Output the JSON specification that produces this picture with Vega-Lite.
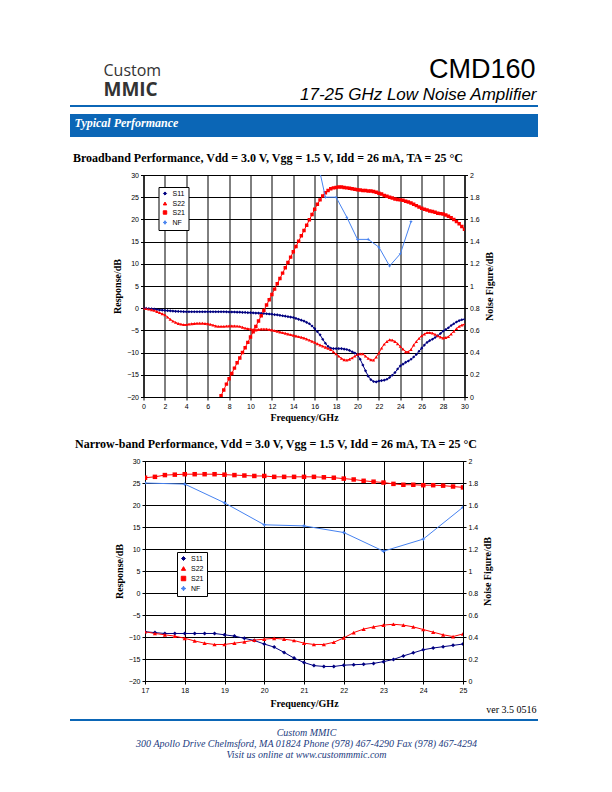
{
  "$schema": "https://vega.github.io/schema/vega-lite/v6.json",
  "padding": 0,
  "background": "white",
  "bounds": "flush",
  "center": true,
  "spacing": 0,
  "config": {"view": {"stroke": null}, "font": "Liberation Sans"},
  "resolve": {"scale": {"color": "independent", "shape": "independent", "size": "independent"}, "legend": {"color": "independent", "shape": "independent", "size": "independent"}},
  "datasets": {
    "bb": [
      {"f":0,"S11":0,"S22":0},{"f":0.25,"S11":-0.05,"S22":-0.1},{"f":0.5,"S11":-0.1,"S22":-0.2},{"f":0.75,"S11":-0.15,"S22":-0.35},
      {"f":1,"S11":-0.2,"S22":-0.5},{"f":1.25,"S11":-0.3,"S22":-0.75},{"f":1.5,"S11":-0.4,"S22":-1.0},{"f":1.75,"S11":-0.45,"S22":-1.25},
      {"f":2,"S11":-0.5,"S22":-1.5},{"f":2.25,"S11":-0.55,"S22":-2.0},{"f":2.5,"S11":-0.6,"S22":-2.5},{"f":2.75,"S11":-0.65,"S22":-2.9},
      {"f":3,"S11":-0.7,"S22":-3.2},{"f":3.25,"S11":-0.72,"S22":-3.45},{"f":3.5,"S11":-0.75,"S22":-3.6},{"f":3.75,"S11":-0.78,"S22":-3.7},
      {"f":4,"S11":-0.8,"S22":-3.7},{"f":4.25,"S11":-0.8,"S22":-3.6},{"f":4.5,"S11":-0.8,"S22":-3.5},{"f":4.75,"S11":-0.8,"S22":-3.45},
      {"f":5,"S11":-0.8,"S22":-3.4},{"f":5.25,"S11":-0.8,"S22":-3.4},{"f":5.5,"S11":-0.8,"S22":-3.4},{"f":5.75,"S11":-0.8,"S22":-3.45},
      {"f":6,"S11":-0.8,"S22":-3.5},{"f":6.25,"S11":-0.8,"S22":-3.65},{"f":6.5,"S11":-0.8,"S22":-3.8},{"f":6.75,"S11":-0.8,"S22":-4.0},
      {"f":7,"S11":-0.8,"S22":-4.1},{"f":7.25,"S11":-0.8,"S22":-4.1,"S21":-19.7},{"f":7.5,"S11":-0.8,"S22":-4.1,"S21":-18.4},{"f":7.75,"S11":-0.82,"S22":-4.05,"S21":-17.1},
      {"f":8,"S11":-0.85,"S22":-4.0,"S21":-15.9},{"f":8.25,"S11":-0.85,"S22":-4.0,"S21":-14.7},{"f":8.5,"S11":-0.85,"S22":-4.0,"S21":-13.5},{"f":8.75,"S11":-0.9,"S22":-4.05,"S21":-12.3},
      {"f":9,"S11":-0.9,"S22":-4.1,"S21":-11.2},{"f":9.25,"S11":-0.95,"S22":-4.3,"S21":-10.0},{"f":9.5,"S11":-0.95,"S22":-4.5,"S21":-8.9},{"f":9.75,"S11":-1.0,"S22":-4.6,"S21":-7.7},
      {"f":10,"S11":-1.0,"S22":-4.7,"S21":-6.5},{"f":10.25,"S11":-1.05,"S22":-4.8,"S21":-5.3},{"f":10.5,"S11":-1.1,"S22":-4.9,"S21":-4.1},{"f":10.75,"S11":-1.1,"S22":-4.8,"S21":-2.9},
      {"f":11,"S11":-1.15,"S22":-4.7,"S21":-1.7},{"f":11.25,"S11":-1.2,"S22":-4.7,"S21":-0.5},{"f":11.5,"S11":-1.25,"S22":-4.7,"S21":0.7},{"f":11.75,"S11":-1.3,"S22":-4.8,"S21":1.9},
      {"f":12,"S11":-1.35,"S22":-4.9,"S21":3.1},{"f":12.25,"S11":-1.45,"S22":-5.05,"S21":4.3},{"f":12.5,"S11":-1.5,"S22":-5.2,"S21":5.5},{"f":12.75,"S11":-1.6,"S22":-5.35,"S21":6.7},
      {"f":13,"S11":-1.7,"S22":-5.5,"S21":7.9},{"f":13.25,"S11":-1.8,"S22":-5.65,"S21":9.1},{"f":13.5,"S11":-1.9,"S22":-5.8,"S21":10.3},{"f":13.75,"S11":-2.0,"S22":-5.95,"S21":11.5},
      {"f":14,"S11":-2.1,"S22":-6.1,"S21":12.7},{"f":14.25,"S11":-2.3,"S22":-6.25,"S21":13.9},{"f":14.5,"S11":-2.5,"S22":-6.4,"S21":15.1},{"f":14.75,"S11":-2.7,"S22":-6.55,"S21":16.3},
      {"f":15,"S11":-2.9,"S22":-6.7,"S21":17.5},{"f":15.25,"S11":-3.2,"S22":-6.95,"S21":18.7},{"f":15.5,"S11":-3.5,"S22":-7.2,"S21":19.9},{"f":15.75,"S11":-4.0,"S22":-7.45,"S21":21.1},
      {"f":16,"S11":-4.6,"S22":-7.7,"S21":22.3},{"f":16.25,"S11":-5.3,"S22":-8.0,"S21":23.4},{"f":16.5,"S11":-6.0,"S22":-8.3,"S21":24.4},{"f":16.75,"S11":-7.0,"S22":-8.55,"S21":25.3},
      {"f":17,"S11":-7.9,"S22":-8.8,"S21":26.0},{"f":17.25,"S11":-8.6,"S22":-9.05,"S21":26.5},{"f":17.5,"S11":-9.0,"S22":-9.3,"S21":26.9},{"f":17.75,"S11":-9.1,"S22":-9.8,"S21":27.1},
      {"f":18,"S11":-9.1,"S22":-10.3,"S21":27.2},{"f":18.25,"S11":-9.1,"S22":-10.8,"S21":27.3},{"f":18.5,"S11":-9.1,"S22":-11.3,"S21":27.3},{"f":18.75,"S11":-9.2,"S22":-11.6,"S21":27.2},
      {"f":19,"S11":-9.3,"S22":-11.7,"S21":27.1},{"f":19.25,"S11":-9.5,"S22":-11.5,"S21":27.0},{"f":19.5,"S11":-9.8,"S22":-11.2,"S21":26.9},{"f":19.75,"S11":-10.1,"S22":-10.8,"S21":26.8},
      {"f":20,"S11":-10.5,"S22":-10.4,"S21":26.7},{"f":20.25,"S11":-11.5,"S22":-10.3,"S21":26.6},{"f":20.5,"S11":-12.8,"S22":-10.3,"S21":26.5},{"f":20.75,"S11":-14.1,"S22":-10.8,"S21":26.5},
      {"f":21,"S11":-15.3,"S22":-11.3,"S21":26.4},{"f":21.25,"S11":-16.1,"S22":-11.6,"S21":26.4},{"f":21.5,"S11":-16.5,"S22":-11.7,"S21":26.3},{"f":21.75,"S11":-16.6,"S22":-11.0,"S21":26.1},
      {"f":22,"S11":-16.4,"S22":-10.1,"S21":25.9},{"f":22.25,"S11":-16.3,"S22":-9.0,"S21":25.7},{"f":22.5,"S11":-16.2,"S22":-8.1,"S21":25.4},{"f":22.75,"S11":-16.0,"S22":-7.5,"S21":25.2},
      {"f":23,"S11":-15.6,"S22":-7.1,"S21":25.0},{"f":23.25,"S11":-15.1,"S22":-7.2,"S21":24.8},{"f":23.5,"S11":-14.5,"S22":-7.5,"S21":24.6},{"f":23.75,"S11":-13.7,"S22":-8.0,"S21":24.5},
      {"f":24,"S11":-13.0,"S22":-8.6,"S21":24.4},{"f":24.25,"S11":-12.6,"S22":-9.2,"S21":24.3},{"f":24.5,"S11":-12.2,"S22":-9.8,"S21":24.1},{"f":24.75,"S11":-11.9,"S22":-9.8,"S21":23.9},
      {"f":25,"S11":-11.5,"S22":-9.3,"S21":23.7},{"f":25.25,"S11":-11.0,"S22":-8.3,"S21":23.4},{"f":25.5,"S11":-10.4,"S22":-7.5,"S21":23.1},{"f":25.75,"S11":-9.7,"S22":-6.8,"S21":22.8},
      {"f":26,"S11":-9.0,"S22":-6.2,"S21":22.5},{"f":26.25,"S11":-8.3,"S22":-5.8,"S21":22.3},{"f":26.5,"S11":-7.7,"S22":-5.5,"S21":22.1},{"f":26.75,"S11":-7.3,"S22":-5.5,"S21":21.9},
      {"f":27,"S11":-7.0,"S22":-5.6,"S21":21.8},{"f":27.25,"S11":-6.6,"S22":-5.9,"S21":21.6},{"f":27.5,"S11":-6.2,"S22":-6.2,"S21":21.4},{"f":27.75,"S11":-5.7,"S22":-6.5,"S21":21.3},
      {"f":28,"S11":-5.2,"S22":-6.7,"S21":21.2},{"f":28.25,"S11":-4.8,"S22":-6.6,"S21":21.0},{"f":28.5,"S11":-4.4,"S22":-6.4,"S21":20.7},{"f":28.75,"S11":-3.9,"S22":-5.8,"S21":20.4},
      {"f":29,"S11":-3.5,"S22":-5.2,"S21":20.0},{"f":29.25,"S11":-3.1,"S22":-4.6,"S21":19.5},{"f":29.5,"S11":-2.8,"S22":-4.1,"S21":19.0},{"f":29.75,"S11":-2.6,"S22":-3.8,"S21":18.4},
      {"f":30,"S11":-2.5,"S22":-3.6,"S21":17.8}
    ],
    "bbnf": [
      {"s":"NF","f":16,"nf":2.24},{"s":"NF","f":17,"nf":1.8},{"s":"NF","f":18,"nf":1.8},{"s":"NF","f":19,"nf":1.62},{"s":"NF","f":20,"nf":1.42},
      {"s":"NF","f":21,"nf":1.42},{"s":"NF","f":22,"nf":1.35},{"s":"NF","f":23,"nf":1.18},{"s":"NF","f":24,"nf":1.29},{"s":"NF","f":25,"nf":1.58}
    ],
    "nb": [
      {"f":17,"S11":-8.8,"S22":-8.8,"S21":26.2},{"f":17.25,"S11":-9.0,"S22":-9.2,"S21":26.4},{"f":17.5,"S11":-9.2,"S22":-9.5,"S21":26.8},{"f":17.75,"S11":-9.2,"S22":-9.8,"S21":26.9},
      {"f":18,"S11":-9.2,"S22":-10.3,"S21":27.0},{"f":18.25,"S11":-9.2,"S22":-10.9,"S21":27.0},{"f":18.5,"S11":-9.2,"S22":-11.4,"S21":27.0},{"f":18.75,"S11":-9.2,"S22":-11.7,"S21":27.0},
      {"f":19,"S11":-9.5,"S22":-11.7,"S21":26.9},{"f":19.25,"S11":-9.8,"S22":-11.4,"S21":26.8},{"f":19.5,"S11":-10.3,"S22":-11.1,"S21":26.7},{"f":19.75,"S11":-10.8,"S22":-10.7,"S21":26.6},
      {"f":20,"S11":-11.6,"S22":-10.5,"S21":26.6},{"f":20.25,"S11":-12.3,"S22":-10.3,"S21":26.4},{"f":20.5,"S11":-13.5,"S22":-10.5,"S21":26.4},{"f":20.75,"S11":-14.8,"S22":-10.8,"S21":26.4},
      {"f":21,"S11":-15.8,"S22":-11.4,"S21":26.4},{"f":21.25,"S11":-16.5,"S22":-11.7,"S21":26.4},{"f":21.5,"S11":-16.7,"S22":-11.7,"S21":26.3},{"f":21.75,"S11":-16.7,"S22":-11.2,"S21":26.2},
      {"f":22,"S11":-16.4,"S22":-10.2,"S21":26.0},{"f":22.25,"S11":-16.3,"S22":-9.0,"S21":25.8},{"f":22.5,"S11":-16.2,"S22":-8.2,"S21":25.5},{"f":22.75,"S11":-16.0,"S22":-7.7,"S21":25.3},
      {"f":23,"S11":-15.6,"S22":-7.3,"S21":25.1},{"f":23.25,"S11":-15.1,"S22":-7.1,"S21":24.8},{"f":23.5,"S11":-14.3,"S22":-7.3,"S21":24.6},{"f":23.75,"S11":-13.6,"S22":-7.7,"S21":24.6},
      {"f":24,"S11":-12.9,"S22":-8.3,"S21":24.5},{"f":24.25,"S11":-12.5,"S22":-8.9,"S21":24.5},{"f":24.5,"S11":-12.2,"S22":-9.5,"S21":24.4},{"f":24.75,"S11":-11.9,"S22":-9.9,"S21":24.2},
      {"f":25,"S11":-11.6,"S22":-9.3,"S21":24.0}
    ],
    "nbnf": [
      {"s":"NF","f":17,"nf":1.8},{"s":"NF","f":18,"nf":1.79},{"s":"NF","f":19,"nf":1.62},{"s":"NF","f":20,"nf":1.42},{"s":"NF","f":21,"nf":1.41},
      {"s":"NF","f":22,"nf":1.35},{"s":"NF","f":23,"nf":1.18},{"s":"NF","f":24,"nf":1.29},{"s":"NF","f":25,"nf":1.58}
    ]
  },
  "vconcat": [
    {
      "width": 608, "height": 105,
      "layer": [
        {"data": {"values": [{}]}, "mark": {"type": "rect", "fill": "white"}, "encoding": {}},
        {"data": {"values": [{}]}, "mark": {"type": "point", "opacity": 0},
          "encoding": {
            "x": {"datum": 0.5, "type": "quantitative", "scale": {"domain": [0, 1]},
              "axis": {"orient": "bottom", "zindex": 2, "domain": false, "ticks": false, "labels": false, "grid": false, "title": "MMIC", "titleX": 103, "titleY": -10, "titleAngle": 0, "titleAlign": "left", "titleBaseline": "alphabetic", "titleFont": "Open Sans", "titleFontSize": 19, "titleFontWeight": "bold", "titleColor": "#333333"}},
            "y": {"datum": 0.5, "type": "quantitative", "scale": {"domain": [0, 1]},
              "axis": {"orient": "left", "zindex": 2, "domain": false, "ticks": false, "labels": false, "grid": false, "title": "Custom", "titleX": 103, "titleY": 75, "titleAngle": 0, "titleAlign": "left", "titleBaseline": "alphabetic", "titleFont": "Open Sans", "titleFontSize": 16, "titleFontWeight": "normal", "titleColor": "#333333"}}
          }},
        {"data": {"values": [{}]}, "mark": {"type": "point", "opacity": 0},
          "encoding": {
            "x": {"datum": 0.5, "type": "quantitative", "scale": {"domain": [0, 1]},
              "axis": {"orient": "top", "zindex": 2, "domain": false, "ticks": false, "labels": false, "grid": false, "title": "17-25 GHz Low Noise Amplifier", "titleX": 536, "titleY": 99, "titleAngle": 0, "titleAlign": "right", "titleBaseline": "alphabetic", "titleFont": "Liberation Sans", "titleFontSize": 17, "titleFontStyle": "italic", "titleFontWeight": "normal", "titleColor": "black"}},
            "y": {"datum": 0.5, "type": "quantitative", "scale": {"domain": [0, 1]},
              "axis": {"orient": "right", "zindex": 2, "domain": false, "ticks": false, "labels": false, "grid": false, "title": "CMD160", "titleX": -73, "titleY": 77.5, "titleAngle": 0, "titleAlign": "right", "titleBaseline": "alphabetic", "titleFont": "Liberation Sans", "titleFontSize": 27, "titleFontWeight": "normal", "titleColor": "black"}}
          }}
      ],
      "resolve": {"scale": {"x": "independent", "y": "independent"}, "axis": {"x": "independent", "y": "independent"}}
    },
    {"width": 468, "height": 2, "data": {"values": [{}]}, "mark": {"type": "rect", "fill": "#0b66b6"}, "encoding": {}},
    {"width": 1, "height": 7, "data": {"values": [{}]}, "mark": {"type": "rect", "opacity": 0}, "encoding": {}},
    {
      "width": 468, "height": 23,
      "view": {"fill": "#0b66b6", "stroke": null},
      "data": {"values": [{}]},
      "mark": {"type": "point", "opacity": 0},
      "encoding": {
        "x": {"datum": 0.5, "type": "quantitative", "scale": {"domain": [0, 1]},
          "axis": {"orient": "top", "zindex": 2, "domain": false, "ticks": false, "labels": false, "grid": false, "title": "Typical Performance", "titleX": 4, "titleY": 12, "titleAngle": 0, "titleAlign": "left", "titleBaseline": "alphabetic", "titleFont": "Liberation Serif", "titleFontSize": 12, "titleFontStyle": "italic", "titleFontWeight": "bold", "titleColor": "white"}}
      }
    },
    {"width": 1, "height": 38, "data": {"values": [{}]}, "mark": {"type": "rect", "opacity": 0}, "encoding": {}},
    {
      "width": 321, "height": 222,
      "view": {"stroke": "#808080"},
      "title": {"text": "Broadband Performance, Vdd = 3.0 V, Vgg = 1.5 V, Idd = 26 mA, TA = 25 °C", "anchor": "start", "frame": "group", "dx": -70.5, "dy": 12, "offset": 9, "baseline": "alphabetic", "font": "Liberation Serif", "fontSize": 12, "fontWeight": "bold", "color": "black"},
      "encoding": {
        "x": {"field": "f", "type": "quantitative", "scale": {"domain": [0, 30], "nice": false, "zero": false},
          "axis": {"values": [0,2,4,6,8,10,12,14,16,18,20,22,24,26,28,30], "grid": true, "gridColor": "black", "gridWidth": 1, "gridOpacity": 1, "domainColor": "black", "tickColor": "black", "tickSize": 3, "labelFont": "Liberation Sans", "labelFontSize": 7, "labelColor": "black", "labelPadding": 2, "labelFlush": false, "labelOverlap": false, "labelBound": false, "title": "Frequency/GHz", "titleFont": "Liberation Serif", "titleFontSize": 10, "titleFontWeight": "bold", "titleColor": "black", "titlePadding": 3}}
      },
      "layer": [
        {
          "data": {"name": "bb"},
          "transform": [{"fold": ["S11", "S22", "S21"], "as": ["s", "v"]}, {"filter": "isValid(datum.v)"}],
          "encoding": {
            "y": {"field": "v", "type": "quantitative", "scale": {"domain": [-20, 30], "nice": false, "zero": false},
              "axis": {"values": [-20,-15,-10,-5,0,5,10,15,20,25,30], "grid": true, "gridColor": "black", "gridWidth": 1, "gridOpacity": 1, "domainColor": "black", "tickColor": "black", "tickSize": 3, "labelFont": "Liberation Sans", "labelFontSize": 7, "labelColor": "black", "labelPadding": 2, "labelOverlap": false, "title": "Response/dB", "titleFont": "Liberation Serif", "titleFontSize": 10, "titleFontWeight": "bold", "titleColor": "black", "titlePadding": 4}},
            "color": {"field": "s", "type": "nominal", "scale": {"domain": ["S11", "S22", "S21", "NF"], "range": ["#000080", "#ff0000", "#ff0000", "#4682f0"]},
              "legend": {"orient": "none", "legendX": 15, "legendY": 12, "title": null, "strokeColor": "black", "fillColor": "white", "padding": 3, "labelFont": "Liberation Sans", "labelFontSize": 7, "labelColor": "black", "symbolSize": 14, "rowPadding": 1, "labelOffset": 4, "symbolStrokeWidth": 1}}
          },
          "layer": [
            {"mark": {"type": "line", "strokeWidth": 1, "clip": true}},
            {"mark": {"type": "point", "filled": true, "opacity": 1, "clip": true},
              "encoding": {
                "shape": {"field": "s", "type": "nominal", "scale": {"domain": ["S11", "S22", "S21", "NF"], "range": ["diamond", "triangle-up", "square", "M0,-1L0.3,-0.3L1,0L0.3,0.3L0,1L-0.3,0.3L-1,0L-0.3,-0.3Z"]},
                  "legend": {"orient": "none", "legendX": 15, "legendY": 12, "title": null, "strokeColor": "black", "fillColor": "white", "padding": 3, "labelFont": "Liberation Sans", "labelFontSize": 7, "labelColor": "black", "symbolSize": 14, "rowPadding": 1, "labelOffset": 4, "symbolStrokeWidth": 1}},
                "size": {"field": "s", "type": "nominal", "scale": {"domain": ["S11", "S22", "S21", "NF"], "range": [10, 13, 22, 40]}, "legend": null}
              }}
          ]
        },
        {
          "data": {"name": "bbnf"},
          "encoding": {
            "y": {"field": "nf", "type": "quantitative", "scale": {"domain": [0, 2], "nice": false, "zero": false},
              "axis": {"orient": "right", "values": [0,0.2,0.4,0.6,0.8,1,1.2,1.4,1.6,1.8,2], "format": "~g", "grid": false, "domainColor": "black", "tickColor": "black", "tickSize": 3, "labelFont": "Liberation Sans", "labelFontSize": 7, "labelColor": "black", "labelPadding": 2, "labelOverlap": false, "title": "Noise Figure/dB", "titleAngle": 270, "titleBaseline": "top", "titleFont": "Liberation Serif", "titleFontSize": 10, "titleFontWeight": "bold", "titleColor": "black", "titlePadding": 5}},
            "color": {"field": "s", "type": "nominal"}
          },
          "layer": [
            {"mark": {"type": "line", "strokeWidth": 1, "clip": true}},
            {"mark": {"type": "point", "filled": true, "opacity": 1, "clip": true},
              "encoding": {
                "shape": {"field": "s", "type": "nominal"},
                "size": {"field": "s", "type": "nominal", "legend": null}
              }}
          ]
        }
      ],
      "resolve": {"scale": {"y": "independent"}}
    },
    {"width": 1, "height": 64, "data": {"values": [{}]}, "mark": {"type": "rect", "opacity": 0}, "encoding": {}},
    {
      "width": 318, "height": 220,
      "view": {"stroke": "#808080"},
      "title": {"text": "Narrow-band Performance,  Vdd = 3.0 V, Vgg = 1.5 V, Idd = 26 mA, TA = 25 °C", "anchor": "start", "frame": "group", "dx": -70, "dy": 12, "offset": 9, "baseline": "alphabetic", "font": "Liberation Serif", "fontSize": 12, "fontWeight": "bold", "color": "black"},
      "encoding": {
        "x": {"field": "f", "type": "quantitative", "scale": {"domain": [17, 25], "nice": false, "zero": false},
          "axis": {"values": [17,18,19,20,21,22,23,24,25], "grid": true, "gridColor": "black", "gridWidth": 1, "gridOpacity": 1, "domainColor": "black", "tickColor": "black", "tickSize": 3, "labelFont": "Liberation Sans", "labelFontSize": 7, "labelColor": "black", "labelPadding": 2, "labelFlush": false, "labelOverlap": false, "labelBound": false, "title": "Frequency/GHz", "titleFont": "Liberation Serif", "titleFontSize": 10, "titleFontWeight": "bold", "titleColor": "black", "titlePadding": 5}}
      },
      "layer": [
        {
          "data": {"name": "nb"},
          "transform": [{"fold": ["S11", "S22", "S21"], "as": ["s", "v"]}, {"filter": "isValid(datum.v)"}],
          "encoding": {
            "y": {"field": "v", "type": "quantitative", "scale": {"domain": [-20, 30], "nice": false, "zero": false},
              "axis": {"values": [-20,-15,-10,-5,0,5,10,15,20,25,30], "grid": true, "gridColor": "black", "gridWidth": 1, "gridOpacity": 1, "domainColor": "black", "tickColor": "black", "tickSize": 3, "labelFont": "Liberation Sans", "labelFontSize": 7, "labelColor": "black", "labelPadding": 2, "labelOverlap": false, "title": "Response/dB", "titleFont": "Liberation Serif", "titleFontSize": 10, "titleFontWeight": "bold", "titleColor": "black", "titlePadding": 4}},
            "color": {"field": "s", "type": "nominal", "scale": {"domain": ["S11", "S22", "S21", "NF"], "range": ["#000080", "#ff0000", "#ff0000", "#4682f0"]},
              "legend": {"orient": "none", "legendX": 32, "legendY": 91, "title": null, "strokeColor": "black", "fillColor": "white", "padding": 3, "labelFont": "Liberation Sans", "labelFontSize": 7, "labelColor": "black", "symbolSize": 14, "rowPadding": 1, "labelOffset": 4, "symbolStrokeWidth": 1}}
          },
          "layer": [
            {"mark": {"type": "line", "strokeWidth": 1, "clip": true}},
            {"mark": {"type": "point", "filled": true, "opacity": 1, "clip": true},
              "encoding": {
                "shape": {"field": "s", "type": "nominal", "scale": {"domain": ["S11", "S22", "S21", "NF"], "range": ["diamond", "triangle-up", "square", "M0,-1L0.3,-0.3L1,0L0.3,0.3L0,1L-0.3,0.3L-1,0L-0.3,-0.3Z"]},
                  "legend": {"orient": "none", "legendX": 32, "legendY": 91, "title": null, "strokeColor": "black", "fillColor": "white", "padding": 3, "labelFont": "Liberation Sans", "labelFontSize": 7, "labelColor": "black", "symbolSize": 14, "rowPadding": 1, "labelOffset": 4, "symbolStrokeWidth": 1}},
                "size": {"field": "s", "type": "nominal", "scale": {"domain": ["S11", "S22", "S21", "NF"], "range": [16, 22, 28, 45]}, "legend": null}
              }}
          ]
        },
        {
          "data": {"name": "nbnf"},
          "encoding": {
            "y": {"field": "nf", "type": "quantitative", "scale": {"domain": [0, 2], "nice": false, "zero": false},
              "axis": {"orient": "right", "values": [0,0.2,0.4,0.6,0.8,1,1.2,1.4,1.6,1.8,2], "format": "~g", "grid": false, "domainColor": "black", "tickColor": "black", "tickSize": 3, "labelFont": "Liberation Sans", "labelFontSize": 7, "labelColor": "black", "labelPadding": 2, "labelOverlap": false, "title": "Noise Figure/dB", "titleAngle": 270, "titleBaseline": "top", "titleFont": "Liberation Serif", "titleFontSize": 10, "titleFontWeight": "bold", "titleColor": "black", "titlePadding": 5}},
            "color": {"field": "s", "type": "nominal"}
          },
          "layer": [
            {"mark": {"type": "line", "strokeWidth": 1, "clip": true}},
            {"mark": {"type": "point", "filled": true, "opacity": 1, "clip": true},
              "encoding": {
                "shape": {"field": "s", "type": "nominal"},
                "size": {"field": "s", "type": "nominal", "legend": null}
              }}
          ]
        }
      ],
      "resolve": {"scale": {"y": "independent"}}
    },
    {"width": 1, "height": 38, "data": {"values": [{}]}, "mark": {"type": "rect", "opacity": 0}, "encoding": {}},
    {
      "width": 468, "height": 2,
      "view": {"fill": "#0b66b6", "stroke": null},
      "data": {"values": [{}]},
      "mark": {"type": "point", "opacity": 0},
      "encoding": {
        "x": {"datum": 0.5, "type": "quantitative", "scale": {"domain": [0, 1]},
          "axis": {"orient": "top", "zindex": 2, "domain": false, "ticks": false, "labels": false, "grid": false, "title": "ver 3.5 0516", "titleX": 466, "titleY": -7, "titleAngle": 0, "titleAlign": "right", "titleBaseline": "alphabetic", "titleFont": "Liberation Serif", "titleFontSize": 10, "titleFontWeight": "normal", "titleColor": "black"}},
        "y": {"datum": 0.5, "type": "quantitative", "scale": {"domain": [0, 1]},
          "axis": {"orient": "left", "zindex": 2, "domain": false, "ticks": false, "labels": false, "grid": false, "title": ["Custom MMIC", "300 Apollo Drive Chelmsford, MA  01824  Phone (978) 467-4290  Fax (978) 467-4294", "Visit us online at www.custommmic.com"], "titleX": 236, "titleY": 16, "titleAngle": 0, "titleAlign": "center", "titleBaseline": "alphabetic", "titleLineHeight": 11.3, "titleFont": "Liberation Serif", "titleFontSize": 10, "titleFontStyle": "italic", "titleFontWeight": "normal", "titleColor": "#1c3c80"}}
      }
    }
  ]
}
